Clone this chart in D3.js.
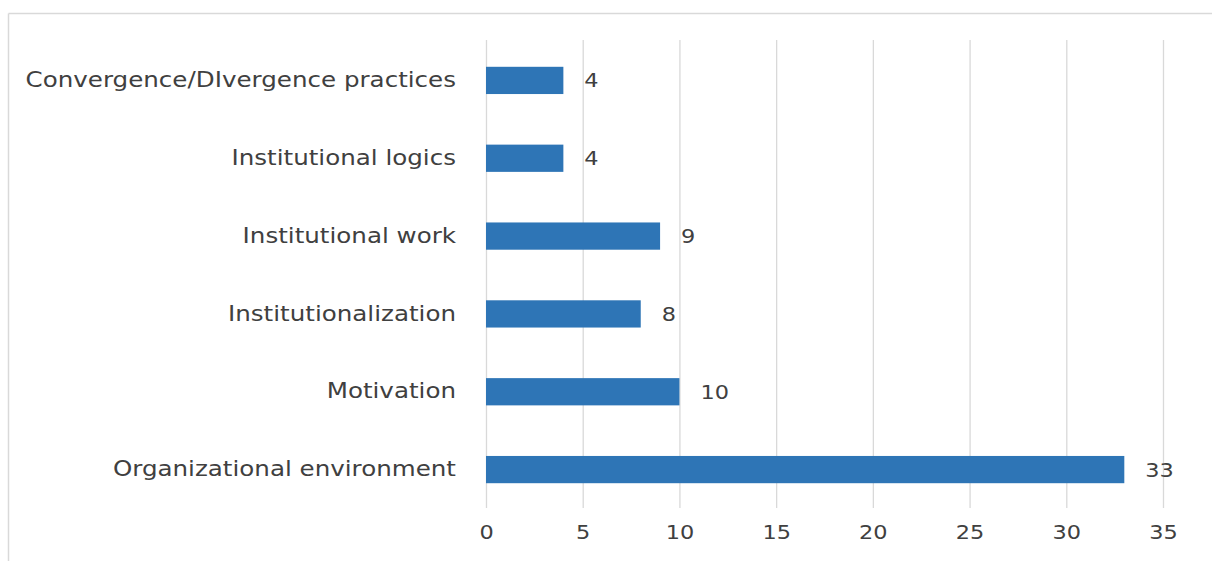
<!DOCTYPE html>
<html>
<head>
<meta charset="utf-8">
<script src="https://cdn.jsdelivr.net/npm/d3@7"></script>
<style>
  html, body { margin: 0; padding: 0; background: #fff; }
  svg { display: block; }
  text { font-family: "DejaVu Sans", Verdana, sans-serif; fill: #404040; }
</style>
</head>
<body>
<svg id="chart" width="1212" height="561"></svg>
<script>
// Categories listed top to bottom
const categories = [
  "Convergence/DIvergence practices",
  "Institutional logics",
  "Institutional work",
  "Institutionalization",
  "Motivation",
  "Organizational environment"
];
const counts = [4, 4, 9, 8, 10, 33];
const xTicks = [0, 5, 10, 15, 20, 25, 30, 35];

const svg = d3.select("#chart");
const W = 1212, H = 561;

// Frame around the chart area
svg.append("line").attr("x1", 8.5).attr("x2", W).attr("y1", 13.5).attr("y2", 13.5)
  .attr("stroke", "#d9d9d9").attr("stroke-width", 1.5);
svg.append("line").attr("x1", 8.5).attr("x2", 8.5).attr("y1", 13.5).attr("y2", H)
  .attr("stroke", "#d9d9d9").attr("stroke-width", 1.5);

const x = d3.scaleLinear().domain([0, 35]).range([486, 1163]);
const y = d3.scaleBand().domain(categories).range([41.5, 508.5]).paddingInner(0.65).paddingOuter(0.325);

// Vertical gridlines
svg.append("g").selectAll("line").data(xTicks).join("line")
  .attr("x1", d => x(d) + 0.5).attr("x2", d => x(d) + 0.5)
  .attr("y1", 40).attr("y2", 508)
  .attr("stroke", "#d9d9d9").attr("stroke-width", 1.3);

// X axis tick labels (slightly widened lettering)
const xAxis = d3.axisBottom(x).tickValues(xTicks).tickSize(0).tickPadding(0);
const gx = svg.append("g").attr("transform", "translate(0,530)").call(xAxis);
gx.select(".domain").remove();
gx.selectAll("text").attr("font-size", 20).attr("fill", "#404040")
  .attr("font-family", "DejaVu Sans, sans-serif").attr("dy", "0.45em")
  .attr("transform", "scale(1.12,1)");

// Category labels
const yAxis = d3.axisLeft(y).tickSize(0).tickPadding(0);
const gy = svg.append("g").attr("transform", "translate(456,0)").call(yAxis);
gy.select(".domain").remove();
gy.selectAll("text").attr("font-size", 21).attr("fill", "#404040")
  .attr("font-family", "DejaVu Sans, sans-serif")
  .attr("transform", "scale(1.17,1)");

// Bars
svg.append("g").selectAll("rect").data(categories).join("rect")
  .attr("x", x(0))
  .attr("y", d => y(d))
  .attr("width", (d, i) => x(counts[i]) - x(0))
  .attr("height", y.bandwidth())
  .attr("fill", "#2e75b6");

// Value labels
svg.append("g").selectAll("text").data(categories).join("text")
  .attr("transform", (d, i) => `translate(${x(counts[i]) + 21},${y(d) + y.bandwidth() / 2}) scale(1.12,1)`)
  .attr("dy", "0.35em")
  .attr("font-size", 20)
  .text((d, i) => counts[i]);
</script>
</body>
</html>
